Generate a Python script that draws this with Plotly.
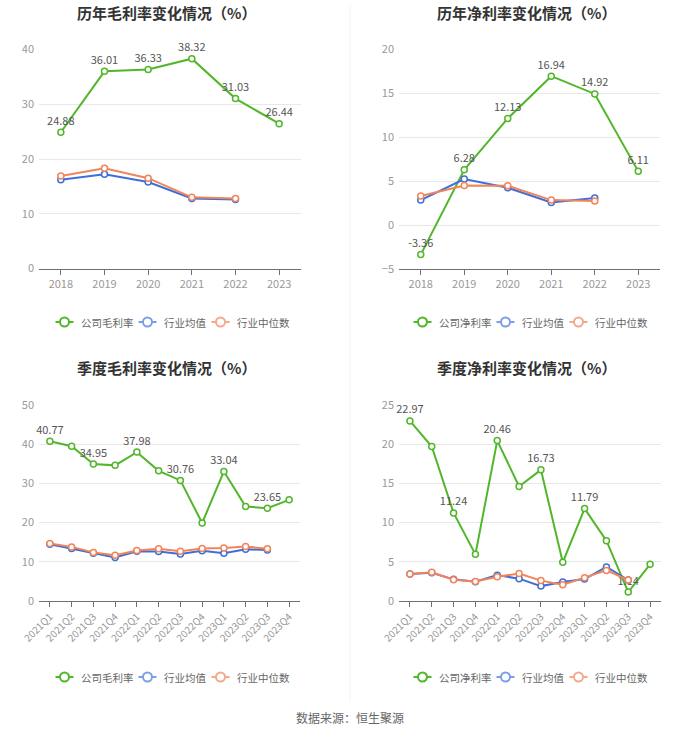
import plotly.graph_objects as go

years = ["2018", "2019", "2020", "2021", "2022", "2023"]
quarters = ["2021Q1", "2021Q2", "2021Q3", "2021Q4", "2022Q1", "2022Q2", "2022Q3",
            "2022Q4", "2023Q1", "2023Q2", "2023Q3", "2023Q4"]

# Annual gross margin
ann_gross_company = [24.88, 36.01, 36.33, 38.32, 31.03, 26.44]
ann_gross_avg = [16.2, 17.2, 15.8, 12.8, 12.6]
ann_gross_median = [16.9, 18.3, 16.5, 13.0, 12.8]

# Annual net margin
ann_net_company = [-3.36, 6.28, 12.13, 16.94, 14.92, 6.11]
ann_net_avg = [2.84, 5.23, 4.24, 2.58, 3.07]
ann_net_median = [3.3, 4.5, 4.47, 2.84, 2.73]

# Quarterly gross margin
q_gross_company = [40.77, 39.5, 34.95, 34.6, 37.98, 33.2, 30.76, 19.9, 33.04, 24.1, 23.65, 25.8]
q_gross_avg = [14.5, 13.4, 12.2, 11.1, 12.7, 12.6, 12.0, 12.8, 12.2, 13.2, 13.0]
q_gross_median = [14.7, 13.8, 12.4, 11.7, 12.9, 13.3, 12.7, 13.4, 13.5, 13.9, 13.3]

# Quarterly net margin
q_net_company = [22.97, 19.7, 11.24, 5.95, 20.46, 14.6, 16.73, 4.93, 11.79, 7.7, 1.14, 4.68]
q_net_avg = [3.44, 3.6, 2.76, 2.47, 3.3, 2.85, 1.9, 2.42, 2.8, 4.34, 2.68]
q_net_median = [3.44, 3.66, 2.72, 2.5, 3.1, 3.5, 2.6, 2.08, 2.98, 3.9, 2.68]

titles = ["历年毛利率变化情况（%）", "历年净利率变化情况（%）",
          "季度毛利率变化情况（%）", "季度净利率变化情况（%）"]
company_names = ["公司毛利率", "公司净利率", "公司毛利率", "公司净利率"]
avg_name = "行业均值"
median_name = "行业中位数"
source_text = "数据来源：恒生聚源"

GREEN = "#52B62A"
BLUE = "#3E6FD8"
ORANGE = "#F2845A"
LEGEND_COLORS = ["#52B62A", "#7D9EE6", "#F3A98B"]
FONT = "Noto Sans CJK SC"

W, H = 700, 734


def ydom(bottom_px, top_px):
    return [(H - bottom_px) / H, (H - top_px) / H]


panels = [
    dict(x=years, comp=ann_gross_company, avg=ann_gross_avg, med=ann_gross_median,
         xdom=[39 / W, 301 / W], ydom=ydom(268.5, 49.5), yrange=[0, 40], dtick=10,
         label_all=True, angle=0),
    dict(x=years, comp=ann_net_company, avg=ann_net_avg, med=ann_net_median,
         xdom=[399 / W, 660 / W], ydom=ydom(269, 49.3), yrange=[-5, 20], dtick=5,
         label_all=True, angle=0),
    dict(x=quarters, comp=q_gross_company, avg=q_gross_avg, med=q_gross_median,
         xdom=[39 / W, 300 / W], ydom=ydom(601, 405), yrange=[0, 50], dtick=10,
         label_all=False, angle=-45),
    dict(x=quarters, comp=q_net_company, avg=q_net_avg, med=q_net_median,
         xdom=[399 / W, 661 / W], ydom=ydom(601, 405), yrange=[0, 25], dtick=5,
         label_all=False, angle=-45),
]

legend_pos = [(170, 322), (528, 322), (170, 677), (528, 677)]
title_pos = [(166, 13), (526, 13), (166, 367), (526, 367)]

fig = go.Figure()
layout = dict(width=W, height=H, margin=dict(l=0, r=0, t=0, b=0, autoexpand=False),
              paper_bgcolor="white", plot_bgcolor="white", showlegend=False,
              font=dict(family=FONT, color="#666"), annotations=[], shapes=[])

for i, p in enumerate(panels):
    n = i + 1
    xa = "x" if n == 1 else f"x{n}"
    ya = "y" if n == 1 else f"y{n}"
    labels = [f"{v:.2f}" if (p["label_all"] or k % 2 == 0) else "" for k, v in enumerate(p["comp"])]
    marker_common = dict(symbol="circle", size=6, color="white")
    fig.add_trace(go.Scatter(
        x=p["x"], y=p["comp"], name=company_names[i], mode="lines+markers+text",
        text=labels, textposition="top center",
        textfont=dict(size=11, color="#555", family=FONT),
        line=dict(color=GREEN, width=2),
        marker=dict(**marker_common, line=dict(color=GREEN, width=1.5)),
        xaxis=xa, yaxis=ya, cliponaxis=False))
    fig.add_trace(go.Scatter(
        x=p["x"][:len(p["avg"])], y=p["avg"], name=avg_name, mode="lines+markers",
        line=dict(color=BLUE, width=2),
        marker=dict(**marker_common, line=dict(color=BLUE, width=1.5)),
        xaxis=xa, yaxis=ya, cliponaxis=False))
    fig.add_trace(go.Scatter(
        x=p["x"][:len(p["med"])], y=p["med"], name=median_name, mode="lines+markers",
        line=dict(color=ORANGE, width=2),
        marker=dict(**marker_common, line=dict(color=ORANGE, width=1.5)),
        xaxis=xa, yaxis=ya, cliponaxis=False))

    xkey = "xaxis" if n == 1 else f"xaxis{n}"
    ykey = "yaxis" if n == 1 else f"yaxis{n}"
    layout[xkey] = dict(domain=p["xdom"], anchor=ya, type="category",
                        categoryorder="array", categoryarray=p["x"],
                        range=[-0.5, len(p["x"]) - 0.5],
                        showgrid=False, zeroline=False, showline=True,
                        linecolor="#6E7079", linewidth=1,
                        ticks="outside", ticklen=5, tickcolor="#6E7079",
                        tickangle=p["angle"],
                        tickfont=dict(size=11 if p["angle"] == 0 else 10, color="#999", family=FONT),
                        fixedrange=True)
    layout[ykey] = dict(domain=p["ydom"], anchor=xa, range=p["yrange"], dtick=p["dtick"],
                        showgrid=True, gridcolor="#E8E8E8", gridwidth=1,
                        zeroline=False, showline=False, ticks="",
                        ticklabelstandoff=4,
                        tickfont=dict(size=11, color="#999", family=FONT),
                        fixedrange=True)

    # legend (drawn as a row of icon + text, centred under the panel)
    names = [company_names[i], avg_name, median_name]
    icon_w, icon_gap, item_gap, char_w = 18, 5, 10, 10
    widths = [icon_w + icon_gap + char_w * len(nm) for nm in names]
    total = sum(widths) + item_gap * (len(names) - 1)
    lx, ly = legend_pos[i]
    cur = lx - total / 2
    yp = (H - ly) / H
    for nm, col, wd in zip(names, LEGEND_COLORS, widths):
        cx = (cur + icon_w / 2) / W
        layout["shapes"].append(dict(type="line", xref="paper", yref="paper",
                                     xsizemode="pixel", ysizemode="pixel",
                                     xanchor=cx, yanchor=yp,
                                     x0=-icon_w / 2, x1=icon_w / 2, y0=0, y1=0,
                                     line=dict(color=col, width=2)))
        layout["shapes"].append(dict(type="circle", xref="paper", yref="paper",
                                     xsizemode="pixel", ysizemode="pixel",
                                     xanchor=cx, yanchor=yp,
                                     x0=-4.5, x1=4.5, y0=-4.5, y1=4.5,
                                     fillcolor="white", line=dict(color=col, width=2)))
        layout["annotations"].append(dict(
            text=nm, x=(cur + icon_w + icon_gap) / W, y=yp, xref="paper", yref="paper",
            xanchor="left", yanchor="middle", showarrow=False,
            font=dict(size=10.5, color="#666", family=FONT)))
        cur += wd + item_gap

    tx, ty = title_pos[i]
    layout["annotations"].append(dict(
        text=f"<b>{titles[i]}</b>", x=tx / W, y=(H - ty) / H, xref="paper", yref="paper",
        xanchor="center", yanchor="middle", showarrow=False,
        font=dict(size=15, color="#333", family=FONT)))

layout["annotations"].append(dict(
    text=source_text, x=350 / W, y=(H - 717) / H, xref="paper", yref="paper",
    xanchor="center", yanchor="middle", showarrow=False,
    font=dict(size=12, color="#666", family=FONT)))

layout["shapes"].append(dict(type="line", xref="paper", yref="paper",
                             x0=350 / W, x1=350 / W, y0=(H - 5) / H, y1=(H - 700) / H,
                             line=dict(color="#F2F2F2", width=1)))

fig.update_layout(**layout)
fig.write_html("out.html", config={"displayModeBar": False},
               post_script="document.body.style.margin='0';document.body.style.overflow='hidden';")
